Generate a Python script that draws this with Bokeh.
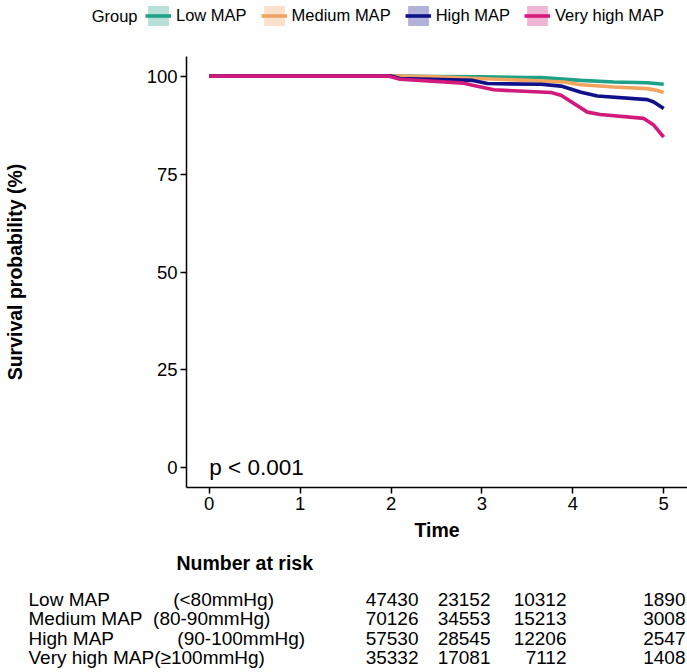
from bokeh.plotting import figure
from bokeh.models import Range1d, Legend, LegendItem, Label
from bokeh.layouts import column
from bokeh.embed import file_html
from bokeh.resources import INLINE
from bokeh.core.properties import value

# ---------------- data ----------------
groups = ["Low MAP", "Medium MAP", "High MAP", "Very high MAP"]
group_ranges = ["(<80mmHg)", "(80-90mmHg)", "(90-100mmHg)", "(\u2265100mmHg)"]

time_low = [0, 2.0, 2.5, 3.0, 3.5, 3.65, 4.09, 4.45, 4.82, 5.0]
surv_low = [100, 100, 99.9, 99.8, 99.6, 99.6, 98.9, 98.5, 98.3, 97.9]

time_med = [0, 2.0, 2.5, 2.95, 3.5, 3.9, 4.09, 4.45, 4.82, 4.93, 5.0]
surv_med = [100, 100, 99.8, 99.4, 98.9, 98.5, 97.8, 97.2, 96.8, 96.3, 95.8]

time_high = [0, 2.0, 2.1, 2.9, 3.06, 3.65, 3.87, 4.09, 4.27, 4.82, 4.89, 5.0]
surv_high = [100, 100, 99.4, 98.9, 98.1, 97.9, 97.45, 95.9, 94.9, 94.0, 93.4, 91.7]

time_vhigh = [0, 1.97, 2.1, 2.8, 2.91, 3.13, 3.76, 3.87, 4.16, 4.3, 4.78, 4.89, 5.0]
surv_vhigh = [100, 100, 99.2, 98.2, 97.6, 96.5, 95.8, 95.1, 90.8, 90.2, 89.2, 87.5, 84.4]

x_ticks = [0, 1, 2, 3, 4, 5]
y_ticks = [0, 25, 50, 75, 100]
p_text = "p < 0.001"
legend_title = "Group"

risk_low = [47430, 23152, 10312, 1890]
risk_med = [70126, 34553, 15213, 3008]
risk_high = [57530, 28545, 12206, 2547]
risk_vhigh = [35332, 17081, 7112, 1408]

# ---------------- style / layout ----------------
FONT = "Liberation Sans"
colors = ["#1FA187", "#F2A35E", "#10108A", "#D11A7C"]
W = 687
label_pads = [12, 2, 12, 0]
col_anchor = [418, 490, 566, 685]      # right edges of the table columns (px)
row_label_x = 28
header_x = 176
header_row = -1.86


def bare(fig):
    fig.outline_line_color = None
    fig.grid.visible = False
    if "frame_align" in fig.properties():
        fig.frame_align = False


series = [(time_low, surv_low), (time_med, surv_med),
          (time_high, surv_high), (time_vhigh, surv_vhigh)]

# ---- legend strip (its key glyphs reuse the series; they fall outside this strip's range) ----
lg = figure(width=W, height=44, x_range=Range1d(0, W), y_range=Range1d(44, 0),
            output_backend="svg", toolbar_location=None,
            x_axis_location=None, y_axis_location=None, min_border=0)
bare(lg)
items = []
for g, (tt, ss), c in zip(groups, series, colors):
    r_fill = lg.varea(x=tt, y1=ss, y2=ss, fill_color=c, fill_alpha=0.32)
    r_line = lg.line(x=tt, y=ss, line_color=c, line_width=3.6)
    items.append(LegendItem(label=g, renderers=[r_fill, r_line]))

legend = Legend(items=items, orientation="horizontal", location=(145, 16),
                glyph_width=26, glyph_height=25, label_standoff=5, spacing=14,
                label_height=20, padding=0, margin=0,
                border_line_color=None, background_fill_alpha=0,
                label_text_font=FONT, label_text_font_size="16.5px",
                label_text_color="black")
lg.add_layout(legend)
lg.add_layout(Label(x=137, y=15.5, text=legend_title, text_align="right",
                    text_baseline="middle", text_font=FONT,
                    text_font_size="16.5px", text_color="black"))

# ---- main KM plot ----
p = figure(width=W, height=501,
           x_range=Range1d(-0.25, -0.25 + (W - 186) / 90.9), y_range=Range1d(-5, 105),
           output_backend="svg", toolbar_location=None,
           min_border_left=186, min_border_right=0,
           min_border_top=12, min_border_bottom=58)
bare(p)
p.background_fill_color = "white"

for ax in (p.xaxis[0], p.yaxis[0]):
    ax.axis_line_color = "black"
    ax.axis_line_width = 1.5
    ax.major_tick_line_color = "black"
    ax.major_tick_line_width = 1.5
    ax.major_tick_out = 6
    ax.major_tick_in = 0
    ax.minor_tick_line_color = None
    ax.major_label_text_font = FONT
    ax.major_label_text_font_size = "18.5px"
    ax.major_label_text_color = "black"
    ax.major_label_standoff = 3
    ax.axis_label_text_font = FONT
    ax.axis_label_text_font_size = "19.5px"
    ax.axis_label_text_font_style = "bold"
    ax.axis_label_text_color = "black"

p.xaxis.ticker = x_ticks
p.yaxis.ticker = y_ticks
p.xaxis.axis_label = "Time"
p.xaxis.axis_label_standoff = 6
p.yaxis.axis_label = "Survival probability (%)"
p.yaxis.axis_label_standoff = 118

for (tt, ss), c in zip(series, colors):
    p.line(tt, ss, line_color=c, line_width=3.6)

p.text(x=[0], y=[0], text=[p_text], text_align="left", text_baseline="middle",
       text_font=value(FONT), text_font_size="22.5px", text_color="black")

# ---------------- risk table ----------------
t = figure(width=W, height=127, x_range=Range1d(0, W), y_range=Range1d(3.78, -2.79),
           output_backend="svg", toolbar_location=None,
           x_axis_location=None, y_axis_location=None, min_border=0)
bare(t)

t.text(x=[header_x], y=[header_row], text=["Number at risk"], text_align="left",
       text_baseline="middle", text_font=value(FONT), text_font_size="19.5px",
       text_font_style="bold", text_color="black")

row_labels = [g + "\u00a0" * n + r for g, r, n in zip(groups, group_ranges, label_pads)]
rows = list(range(len(groups)))
t.text(x=[row_label_x] * len(rows), y=rows, text=row_labels, text_align="left",
       text_baseline="middle", text_font=value(FONT), text_font_size="19px",
       text_color="black")

risk = [risk_low, risk_med, risk_high, risk_vhigh]
for j, xa in enumerate(col_anchor):
    t.text(x=[xa] * len(rows), y=rows, text=[str(r[j]) for r in risk],
           text_align="right", text_baseline="middle", text_font=value(FONT),
           text_font_size="19px", text_color="black")

layout = column(lg, p, t, spacing=0)
open("out.html", "w").write(file_html(layout, INLINE))
